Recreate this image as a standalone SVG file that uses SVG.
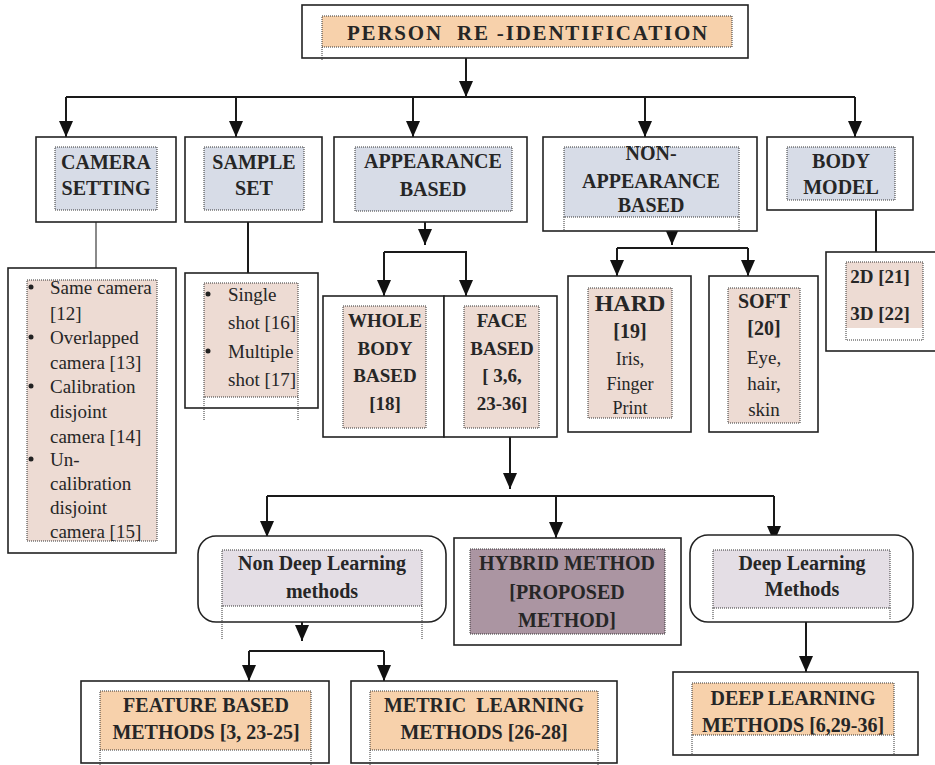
<svg xmlns="http://www.w3.org/2000/svg" width="935" height="765" viewBox="0 0 935 765">
  <style>
    .box { fill: #ffffff; stroke: #222222; stroke-width: 1.6; }
    .dot { fill: none; stroke: #333333; stroke-width: 1; stroke-dasharray: 1 1; }
    .blue { fill: #d7dce7; }
    .peach { fill: #eddbd3; }
    .orange { fill: #f7d1ab; }
    .lav { fill: #e4dee5; }
    .mauve { fill: #ab95a2; }
    .t { font-family: "Liberation Serif", "Times New Roman", serif; fill: #262626; text-anchor: middle; white-space: pre; }
    .b { font-weight: bold; font-size: 20px; }
    .r { font-size: 19px; }
    .l { text-anchor: start; }
    .wire { fill: none; stroke: #1a1a1a; stroke-width: 2; }
    .bullet { fill: #222222; }
  </style>
  <defs>
    <marker id="ah" viewBox="0 0 16 14" refX="16" refY="7" markerWidth="16" markerHeight="14" markerUnits="userSpaceOnUse" orient="auto">
      <path d="M0,0 L16,7 L0,14 z" fill="#111111"/>
    </marker>
  </defs>

  <rect width="935" height="765" fill="#ffffff"/>

  <!-- connectors -->
  <g id="connectors">
    <path class="wire" d="M466,58 V97" marker-end="url(#ah)"/>
    <path class="wire" d="M66,97 H855"/>
    <path class="wire" d="M66,97 V137" marker-end="url(#ah)"/>
    <path class="wire" d="M236,97 V137" marker-end="url(#ah)"/>
    <path class="wire" d="M413,97 V137" marker-end="url(#ah)"/>
    <path class="wire" d="M645,97 V137" marker-end="url(#ah)"/>
    <path class="wire" d="M855,97 V137" marker-end="url(#ah)"/>

    <path d="M96,222 V268" fill="none" stroke="#8a8a8a" stroke-width="2"/>
    <path class="wire" d="M248,222 V273"/>
    <path class="wire" d="M876,210 V252"/>

    <path class="wire" d="M425,222 V245" marker-end="url(#ah)"/>
    <path class="wire" d="M384,252 H467"/>
    <path class="wire" d="M384,252 V296" marker-end="url(#ah)"/>
    <path class="wire" d="M466,252 V296" marker-end="url(#ah)"/>

    <path class="wire" d="M672,231 V245" marker-end="url(#ah)"/>
    <path class="wire" d="M617,248 H748"/>
    <path class="wire" d="M617,248 V276" marker-end="url(#ah)"/>
    <path class="wire" d="M748,248 V276" marker-end="url(#ah)"/>

    <path class="wire" d="M510,437 V489" marker-end="url(#ah)"/>
    <path class="wire" d="M267,496 H774"/>
    <path class="wire" d="M267,496 V537" marker-end="url(#ah)"/>
    <path class="wire" d="M556,496 V538" marker-end="url(#ah)"/>
    <path class="wire" d="M774,496 V542" marker-end="url(#ah)"/>

    <path class="wire" d="M302,622 V641" marker-end="url(#ah)"/>
    <path class="wire" d="M249,651 H384"/>
    <path class="wire" d="M249,651 V681" marker-end="url(#ah)"/>
    <path class="wire" d="M384,651 V681" marker-end="url(#ah)"/>

    <path class="wire" d="M806,622 V672" marker-end="url(#ah)"/>
  </g>

  <!-- root -->
  <g id="person-reid">
    <rect class="box" x="302" y="5" width="446" height="53"/>
    <rect class="orange" x="322" y="16" width="410" height="31"/>
    <rect class="dot" x="322" y="16" width="410" height="31"/>
    <path class="dot" d="M322,47 V60"/>
    <text class="t b" x="528" y="40" style="font-size:21px;letter-spacing:1.8px">PERSON  RE -IDENTIFICATION</text>
  </g>

  <!-- first level -->
  <g id="camera-setting">
    <rect class="box" x="36" y="137" width="140" height="85"/>
    <rect class="blue" x="55" y="147" width="102" height="63"/>
    <rect class="dot" x="55" y="147" width="102" height="63"/>
    <text class="t b" x="106" y="169">CAMERA</text>
    <text class="t b" x="106" y="195">SETTING</text>
  </g>

  <g id="sample-set">
    <rect class="box" x="185" y="137" width="137" height="85"/>
    <rect class="blue" x="204" y="147" width="100" height="63"/>
    <rect class="dot" x="204" y="147" width="100" height="63"/>
    <text class="t b" x="254" y="169">SAMPLE</text>
    <text class="t b" x="254" y="195">SET</text>
  </g>

  <g id="appearance-based">
    <rect class="box" x="334" y="137" width="193" height="85"/>
    <rect class="blue" x="355" y="147" width="157" height="64"/>
    <rect class="dot" x="355" y="147" width="157" height="64"/>
    <text class="t b" x="433" y="168">APPEARANCE</text>
    <text class="t b" x="433" y="196">BASED</text>
  </g>

  <g id="non-appearance-based">
    <rect class="box" x="543" y="137" width="214" height="94"/>
    <rect class="blue" x="564" y="147" width="175" height="70"/>
    <rect class="dot" x="564" y="147" width="175" height="70"/>
    <path class="dot" d="M564,217 V231 M739,217 V231"/>
    <text class="t b" x="651" y="160">NON-</text>
    <text class="t b" x="651" y="188">APPEARANCE</text>
    <text class="t b" x="651" y="212">BASED</text>
  </g>

  <g id="body-model">
    <rect class="box" x="767" y="137" width="146" height="73"/>
    <rect class="blue" x="787" y="147" width="108" height="53"/>
    <rect class="dot" x="787" y="147" width="108" height="53"/>
    <text class="t b" x="841" y="168">BODY</text>
    <text class="t b" x="841" y="194">MODEL</text>
  </g>

  <!-- camera setting list -->
  <g id="camera-list">
    <rect class="box" x="8" y="268" width="168" height="285"/>
    <rect class="peach" x="27" y="280" width="130" height="261"/>
    <rect class="dot" x="27" y="280" width="130" height="261"/>
    <circle class="bullet" cx="31" cy="287" r="2.5"/>
    <circle class="bullet" cx="31" cy="337" r="2.5"/>
    <circle class="bullet" cx="31" cy="386" r="2.5"/>
    <circle class="bullet" cx="31" cy="459" r="2.5"/>
    <text class="t r l" x="50" y="294">Same camera</text>
    <text class="t r l" x="50" y="320">[12]</text>
    <text class="t r l" x="50" y="344">Overlapped</text>
    <text class="t r l" x="50" y="369">camera [13]</text>
    <text class="t r l" x="50" y="393">Calibration</text>
    <text class="t r l" x="50" y="418">disjoint</text>
    <text class="t r l" x="50" y="443">camera [14]</text>
    <text class="t r l" x="50" y="466">Un-</text>
    <text class="t r l" x="50" y="490">calibration</text>
    <text class="t r l" x="50" y="514">disjoint</text>
    <text class="t r l" x="50" y="538">camera [15]</text>
  </g>

  <!-- sample set list -->
  <g id="sample-list">
    <rect class="box" x="185" y="273" width="133" height="135"/>
    <rect class="peach" x="204" y="283" width="94" height="114"/>
    <rect class="dot" x="204" y="283" width="94" height="114"/>
    <path class="dot" d="M204,397 V420 M298,397 V420"/>
    <circle class="bullet" cx="208" cy="294" r="2.5"/>
    <circle class="bullet" cx="208" cy="351" r="2.5"/>
    <text class="t r l" x="228" y="301">Single</text>
    <text class="t r l" x="228" y="329">shot [16]</text>
    <text class="t r l" x="228" y="358">Multiple</text>
    <text class="t r l" x="228" y="386">shot [17]</text>
  </g>

  <!-- appearance sub-types -->
  <g id="whole-body-based">
    <rect class="box" x="323" y="296" width="121" height="141"/>
    <rect class="peach" x="343" y="306" width="83" height="122"/>
    <rect class="dot" x="343" y="306" width="83" height="122"/>
    <text class="t b" x="385" y="327" style="font-size:19px">WHOLE</text>
    <text class="t b" x="385" y="355" style="font-size:19px">BODY</text>
    <text class="t b" x="385" y="382" style="font-size:19px">BASED</text>
    <text class="t b" x="385" y="410" style="font-size:19px">[18]</text>
  </g>

  <g id="face-based">
    <rect class="box" x="444" y="296" width="113" height="141"/>
    <rect class="peach" x="464" y="306" width="75" height="122"/>
    <rect class="dot" x="464" y="306" width="75" height="122"/>
    <text class="t b" x="502" y="327" style="font-size:19px">FACE</text>
    <text class="t b" x="502" y="355" style="font-size:19px">BASED</text>
    <text class="t b" x="502" y="382" style="font-size:19px">[ 3,6,</text>
    <text class="t b" x="502" y="410" style="font-size:19px">23-36]</text>
  </g>

  <!-- non-appearance sub-types -->
  <g id="hard">
    <rect class="box" x="568" y="276" width="123" height="156"/>
    <rect class="peach" x="588" y="288" width="84" height="130"/>
    <rect class="dot" x="588" y="288" width="84" height="130"/>
    <text class="t b" x="630" y="311" style="font-size:24px">HARD</text>
    <text class="t b" x="630" y="338">[19]</text>
    <text class="t r" x="630" y="365" style="font-size:18px">Iris,</text>
    <text class="t r" x="630" y="390" style="font-size:18px">Finger</text>
    <text class="t r" x="630" y="414" style="font-size:18px">Print</text>
  </g>

  <g id="soft">
    <rect class="box" x="709" y="276" width="109" height="156"/>
    <rect class="peach" x="728" y="288" width="72" height="135"/>
    <rect class="dot" x="728" y="288" width="72" height="135"/>
    <text class="t b" x="764" y="308">SOFT</text>
    <text class="t b" x="764" y="335">[20]</text>
    <text class="t r" x="764" y="364">Eye,</text>
    <text class="t r" x="764" y="390">hair,</text>
    <text class="t r" x="764" y="416">skin</text>
  </g>

  <!-- body model types -->
  <g id="body-model-list">
    <rect class="box" x="826" y="252" width="112" height="99"/>
    <rect class="peach" x="846" y="262" width="77" height="66"/>
    <rect class="dot" x="846" y="262" width="77" height="78"/>
    <text class="t b" x="880" y="283" style="font-size:19px">2D [21]</text>
    <text class="t b" x="880" y="320" style="font-size:19px">3D [22]</text>
  </g>

  <!-- method families -->
  <g id="non-deep-learning">
    <rect class="box" x="198" y="536" width="248" height="86" rx="18" ry="18"/>
    <rect class="lav" x="222" y="550" width="200" height="56"/>
    <rect class="dot" x="222" y="550" width="200" height="56"/>
    <path class="dot" d="M222,606 V640 M422,606 V640"/>
    <text class="t b" x="322" y="570">Non Deep Learning</text>
    <text class="t b" x="322" y="598">methods</text>
  </g>

  <g id="hybrid-method">
    <rect class="box" x="454" y="538" width="227" height="107"/>
    <rect class="mauve" x="470" y="549" width="195" height="85"/>
    <rect class="dot" x="470" y="549" width="195" height="85"/>
    <text class="t b" x="567" y="570">HYBRID METHOD</text>
    <text class="t b" x="567" y="599">[PROPOSED</text>
    <text class="t b" x="567" y="627">METHOD]</text>
  </g>

  <g id="deep-learning">
    <rect class="box" x="690" y="535" width="223" height="87" rx="18" ry="18"/>
    <rect class="lav" x="713" y="550" width="177" height="58"/>
    <rect class="dot" x="713" y="550" width="177" height="58"/>
    <path class="dot" d="M713,608 V620 M890,608 V620"/>
    <text class="t b" x="802" y="570">Deep Learning</text>
    <text class="t b" x="802" y="596">Methods</text>
  </g>

  <!-- method groups -->
  <g id="feature-based-methods">
    <rect class="box" x="81" y="681" width="248" height="82"/>
    <rect class="orange" x="100" y="691" width="211" height="59"/>
    <rect class="dot" x="100" y="691" width="211" height="59"/>
    <path class="dot" d="M100,750 V765 M311,750 V765"/>
    <text class="t b" x="206" y="712">FEATURE BASED</text>
    <text class="t b" x="206" y="739">METHODS [3, 23-25]</text>
  </g>

  <g id="metric-learning-methods">
    <rect class="box" x="351" y="681" width="266" height="82"/>
    <rect class="orange" x="370" y="691" width="228" height="59"/>
    <rect class="dot" x="370" y="691" width="228" height="59"/>
    <path class="dot" d="M370,750 V765 M598,750 V765"/>
    <text class="t b" x="484" y="712">METRIC  LEARNING</text>
    <text class="t b" x="484" y="739">METHODS [26-28]</text>
  </g>

  <g id="deep-learning-methods">
    <rect class="box" x="673" y="672" width="245" height="83"/>
    <rect class="orange" x="692" y="683" width="202" height="52"/>
    <rect class="dot" x="692" y="683" width="202" height="52"/>
    <path class="dot" d="M692,735 V755 M894,735 V755"/>
    <text class="t b" x="793" y="705">DEEP LEARNING</text>
    <text class="t b" x="793" y="732">METHODS [6,29-36]</text>
  </g>
</svg>
